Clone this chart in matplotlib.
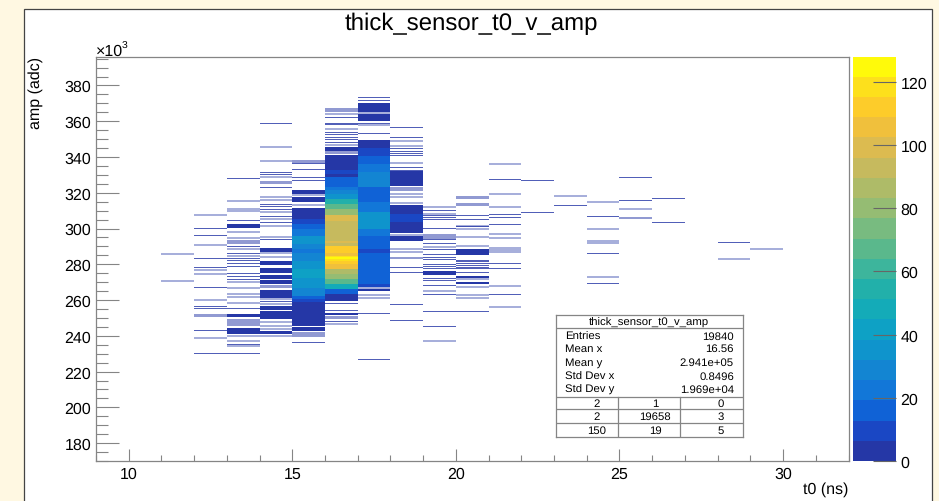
import numpy as np
import matplotlib
matplotlib.use("Agg")
import matplotlib.pyplot as plt
from matplotlib.cm import ScalarMappable
from matplotlib.colors import BoundaryNorm, ListedColormap
from matplotlib.lines import Line2D
from matplotlib.patches import Rectangle
from matplotlib.ticker import MultipleLocator

plt.rcParams['font.family'] = ['Liberation Sans', 'DejaVu Sans']
plt.rcParams['text.hinting'] = 'no_hinting'

W, H = 939, 502

# colour levels of the z axis, bottom to top
palette = ['#2537A6', '#1A47C4', '#1062D6', '#1277D8', '#1385D2', '#0F94CC', '#0EA1C5',
           '#14ABB8', '#22B0AA', '#3DB59C', '#5AB88C', '#78BB80', '#95BC73', '#AEBB68',
           '#C6BA5E', '#DCBB50', '#F0C03C', '#FDCC2A', '#FDE01C', '#FFFA0A']
z_max = 128
z_ticks = [0, 20, 40, 60, 80, 100, 120]

# amp in units of 1000 adc. lines = crisp single bins, faint = pale single bins,
# haze = pale ranges, blocks = (lo, hi, count) for filled ranges
faint_11 = [285.7, 270.5]

lines_12 = [300.1, 296.2, 283.3, 278.3, 266.9, 256.5, 255.4, 242.8, 230.2]
faint_12 = [307.7, 291.0, 277.0, 274.4, 260.0, 239.0]
haze_12 = [(252.0, 250.4)]

lines_13 = [328.1, 304.6, 290.1, 285.8, 283.3, 282.0, 280.5, 278.9, 275.0, 273.3, 271.4, 255.4, 235.4, 230.2]
faint_13 = [315.2, 310.8, 309.6, 298.1, 294.7, 288.6, 284.5, 270.3, 266.9, 263.4, 261.7, 258.5, 239.9, 237.1, 234.3]
haze_13 = [(293.6, 291.3), (249.6, 245.5)]
blocks_13 = [(302.4, 300.5, 3), (252.2, 250.3, 3), (244.4, 241.0, 3)]

lines_14 = [359.0, 331.5, 330.1, 322.7, 313.6, 312.2, 310.9, 307.0, 303.5, 293.9, 259.3]
faint_14 = [345.8, 337.6, 328.8, 317.5, 316.1, 309.1, 305.3, 301.6, 295.4, 286.3, 283.9, 260.4,
            257.8, 247.7, 245.5, 244.0, 239.7]
haze_14 = [(326.3, 325.1), (268.4, 266.7)]
blocks_14 = [(289.1, 286.9, 3), (281.7, 279.8, 3), (277.9, 275.0, 3), (274.2, 271.8, 3), (271.2, 269.0, 3),
             (265.8, 261.1, 3), (256.5, 254.6, 3), (253.7, 249.6, 3), (242.8, 241.0, 3)]

lines_15 = [336.5, 333.1, 328.8, 327.1, 236.4]
faint_15 = [318.6, 313.0]
haze_15 = [(338.3, 336.7), (242.1, 239.3)]
blocks_15 = [(321.7, 319.3, 3), (317.5, 314.7, 3), (311.5, 305.3, 3), (305.3, 302.4, 10), (302.4, 299.6, 16),
             (299.6, 295.8, 22), (295.8, 291.2, 32), (291.2, 288.4, 29), (288.4, 286.5, 22), (286.5, 281.8, 29),
             (281.8, 277.4, 35), (277.4, 272.5, 42), (272.5, 266.9, 35), (266.9, 262.3, 29), (262.3, 260.6, 16),
             (260.6, 258.9, 10), (258.9, 245.5, 3), (244.9, 242.7, 3)]

lines_16 = [362.2, 359.0, 357.9, 353.8, 352.5, 351.0, 349.7, 348.2, 258.3, 254.0, 248.1]
faint_16 = [364.2, 355.7, 346.9, 246.6]
haze_16 = [(367.3, 365.4), (343.2, 341.4), (251.1, 249.4)]
blocks_16 = [(345.4, 343.5, 3), (341.3, 332.7, 3), (332.7, 330.5, 10), (330.5, 328.8, 3), (328.8, 323.2, 16),
             (323.2, 321.6, 22), (321.6, 319.3, 29), (319.3, 316.5, 38), (316.5, 313.7, 54), (313.7, 310.9, 67),
             (310.9, 307.7, 80), (307.7, 304.4, 99), (304.4, 300.5, 90), (300.5, 295.8, 93), (295.8, 293.0, 90),
             (293.0, 292.0, 99), (292.0, 290.2, 90), (290.2, 286.5, 112), (286.5, 284.6, 106), (284.6, 283.8, 118),
             (283.8, 283.0, 125), (283.0, 281.8, 118), (281.8, 280.0, 112), (280.0, 277.2, 106), (277.2, 274.6, 86),
             (274.6, 271.6, 80), (271.6, 268.8, 67), (268.8, 266.0, 48), (266.0, 263.2, 16), (263.2, 259.5, 3),
             (252.6, 251.6, 3)]

lines_17 = [373.0, 371.7, 358.9, 353.0, 252.6, 227.0]
faint_17 = [364.6, 357.9, 267.0, 263.0, 261.1]
blocks_17 = [(370.2, 365.4, 3), (364.1, 360.3, 3), (349.7, 345.1, 3), (345.1, 340.7, 10), (340.7, 336.1, 16),
             (336.1, 331.5, 22), (331.5, 323.1, 29), (323.1, 314.7, 16), (314.7, 309.1, 22), (309.1, 299.6, 35),
             (299.6, 295.8, 22), (295.8, 288.4, 16), (288.4, 286.5, 10), (286.5, 268.8, 16), (268.8, 267.3, 10),
             (266.2, 265.1, 3)]

lines_18 = [356.6, 351.0, 344.5, 343.1, 341.7, 340.6, 334.2, 332.7, 278.3, 275.3, 257.6, 248.7]
faint_18 = [349.1, 346.4, 336.7, 319.3, 317.5, 314.3, 296.4, 288.5, 286.7]
haze_18 = [(323.1, 321.2), (284.1, 283.0)]
blocks_18 = [(332.0, 323.9, 3), (313.2, 308.1, 3), (308.1, 303.7, 10), (303.7, 297.3, 3), (295.8, 293.2, 3)]

lines_19 = [310.0, 307.2, 305.9, 305.0, 300.1, 294.0, 291.9, 288.5, 285.4, 283.9, 282.6, 279.8, 278.5,
            277.4, 272.2, 271.0, 268.0, 263.0, 253.7, 245.3]
faint_19 = [312.2, 308.1, 289.8, 264.9, 236.9]
haze_19 = [(297.0, 294.1)]
blocks_19 = [(276.1, 274.0, 3)]

lines_20 = [307.2, 305.3, 301.0, 282.4, 281.3, 280.2, 279.2, 278.2, 277.4, 275.3, 253.7]
faint_20 = [301.2, 299.7, 295.4, 290.4, 271.6, 267.5, 263.0, 261.1]
haze_20 = [(318.2, 316.5), (314.3, 312.8)]
blocks_20 = [(288.5, 285.4, 3), (273.6, 272.3, 3), (269.9, 269.0, 3)]

lines_21 = [327.3, 308.1, 306.3, 302.1, 280.5, 277.8, 263.2]
faint_21 = [336.1, 319.3, 311.9, 296.9, 294.5, 289.3, 288.2, 286.7, 267.7, 255.9]

lines_22 = [327.0, 309.1]
lines_23 = [313.0]
faint_23 = [318.2]
lines_24 = [306.8, 286.1, 269.4]
faint_24 = [315.0, 299.6, 292.9, 292.0, 272.7]
lines_25 = [328.7, 315.4]
faint_25 = [310.8]
haze_25 = [(306.5, 305.3)]
lines_26 = [316.9, 303.5]
lines_28 = [292.1]
faint_28 = [282.8]
faint_29 = [288.5]

columns = [
    (11, [], faint_11, [], []),
    (12, lines_12, faint_12, haze_12, []),
    (13, lines_13, faint_13, haze_13, blocks_13),
    (14, lines_14, faint_14, haze_14, blocks_14),
    (15, lines_15, faint_15, haze_15, blocks_15),
    (16, lines_16, faint_16, haze_16, blocks_16),
    (17, lines_17, faint_17, [], blocks_17),
    (18, lines_18, faint_18, haze_18, blocks_18),
    (19, lines_19, faint_19, haze_19, blocks_19),
    (20, lines_20, faint_20, haze_20, blocks_20),
    (21, lines_21, faint_21, [], []),
    (22, lines_22, [], [], []),
    (23, lines_23, faint_23, [], []),
    (24, lines_24, faint_24, [], []),
    (25, lines_25, faint_25, haze_25, []),
    (26, lines_26, [], [], []),
    (28, lines_28, faint_28, [], []),
    (29, [], faint_29, [], []),
]

stat_title = "thick_sensor_t0_v_amp"
stat_names = ["Entries", "Mean x", "Mean y", "Std Dev x", "Std Dev y"]
stat_values = ["19840", "16.56", "2.941e+05", "0.8496", "1.969e+04"]
stat_grid = [["2", "1", "0"], ["2", "19658", "3"], ["150", "19", "5"]]


def box(left, top, right, bottom):
    """ pixel box -> figure fractions for add_axes """
    return [left / W, 1 - bottom / H, (right - left) / W, (bottom - top) / H]


def fx(x):
    return x / W


def fy(y):
    return 1 - y / H


def draw_bin(ax, t0, lo, hi, color, alpha=1.0):
    bars = ax.barh((lo + hi) / 2, 1, left=t0, height=abs(hi - lo), color=color, alpha=alpha, linewidth=0)
    for b in bars:
        b.set_snap(True)


GREY = '#858585'
fig = plt.figure(figsize=(W / 100, H / 100), dpi=100, facecolor='#FFF8E2')

# white canvas with a dark edge, no bottom border visible
fig.add_artist(Rectangle((fx(23.5), -0.05), fx(908.5), fy(9.5) + 0.05, transform=fig.transFigure,
                         facecolor='white', edgecolor='#444444', linewidth=0.9, zorder=-5))

ax = fig.add_axes(box(96, 57.5, 848.5, 462))
ax.set_xlim(9, 32)
ax.set_ylim(170, 396.2)

cmap = ListedColormap(palette)
norm = BoundaryNorm(np.linspace(0, z_max, len(palette) + 1), len(palette))

for t0, lines, faint, haze, blocks in columns:
    for lo, hi, count in blocks:
        draw_bin(ax, t0, lo, hi, cmap(norm(count)))
    for lo, hi in haze:
        draw_bin(ax, t0, lo, hi, palette[0], alpha=0.5)
    for amp in faint:
        draw_bin(ax, t0, amp - 0.55, amp + 0.55, palette[0], alpha=0.4)
    for amp in lines:
        draw_bin(ax, t0, amp - 0.28, amp + 0.28, palette[0], alpha=0.8)

ax.xaxis.set_major_locator(MultipleLocator(5))
ax.xaxis.set_minor_locator(MultipleLocator(1))
ax.yaxis.set_major_locator(MultipleLocator(20))
ax.yaxis.set_minor_locator(MultipleLocator(5))
ax.tick_params(axis='x', which='major', direction='in', length=8.6, width=0.8, color=GREY, labelsize=11.5, pad=4)
ax.tick_params(axis='x', which='minor', direction='in', length=4.3, width=0.8, color=GREY)
ax.tick_params(axis='y', which='major', direction='in', length=16.6, width=0.8, color=GREY, labelsize=11.5, pad=3.6)
ax.tick_params(axis='y', which='minor', direction='in', length=8.3, width=0.8, color=GREY)
for s in ax.spines.values():
    s.set_color(GREY)
    s.set_linewidth(0.9)
ax.set_axisbelow(False)

cax = fig.add_axes(box(852.5, 57.5, 895.7, 462))
cb = fig.colorbar(ScalarMappable(norm=norm, cmap=cmap), cax=cax, spacing='proportional', ticks=z_ticks)
cb.outline.set_visible(False)
cb.ax.minorticks_off()
cb.ax.tick_params(direction='in', length=16.6, width=0.8, color='#666666', labelsize=11.5, pad=3.5)

fig.text(fx(471.5), fy(24), "thick_sensor_t0_v_amp", ha='center', va='center', fontsize=17.3)
fig.text(fx(848), fy(490), "t0 (ns)", ha='right', va='center', fontsize=11.5)
fig.text(fx(36), fy(57), "amp (adc)", rotation=90, ha='center', va='top', fontsize=11.5)
fig.text(fx(96), fy(56), "\u00d710", ha='left', va='baseline', fontsize=11.5)
fig.text(fx(122), fy(49), "3", ha='left', va='baseline', fontsize=7.5)

# stats box, laid out in pixels
st = fig.add_axes(box(555.5, 316, 743, 437.5))
st.set_xlim(555.5, 743)
st.set_ylim(437.5, 316)
st.set_xticks([])
st.set_yticks([])
st.set_facecolor('white')
st.set_zorder(5)
for s in st.spines.values():
    s.set_color(GREY)
    s.set_linewidth(0.9)
for yy in [329, 397.7, 410.3, 423.7]:
    st.add_line(Line2D([555.5, 743], [yy, yy], color=GREY, linewidth=0.9))
for xx in [617.7, 680.3]:
    st.add_line(Line2D([xx, xx], [397.7, 437.5], color=GREY, linewidth=0.9))

st.text(649.3, 322.5, stat_title, ha='center', va='center', fontsize=8.2)
for yy, name, val in zip([336.7, 349.5, 362.7, 377, 390], stat_names, stat_values):
    st.text(565, yy, name, ha='left', va='center', fontsize=8.2)
    st.text(734, yy, val, ha='right', va='center', fontsize=8.2)
for yy, row in zip([404, 417.3, 430.7], stat_grid):
    for xx, val in zip([596.7, 655, 721], row):
        st.text(xx, yy, val, ha='center', va='center', fontsize=8.2)

fig.savefig("out.png", dpi=100, facecolor=fig.get_facecolor())
